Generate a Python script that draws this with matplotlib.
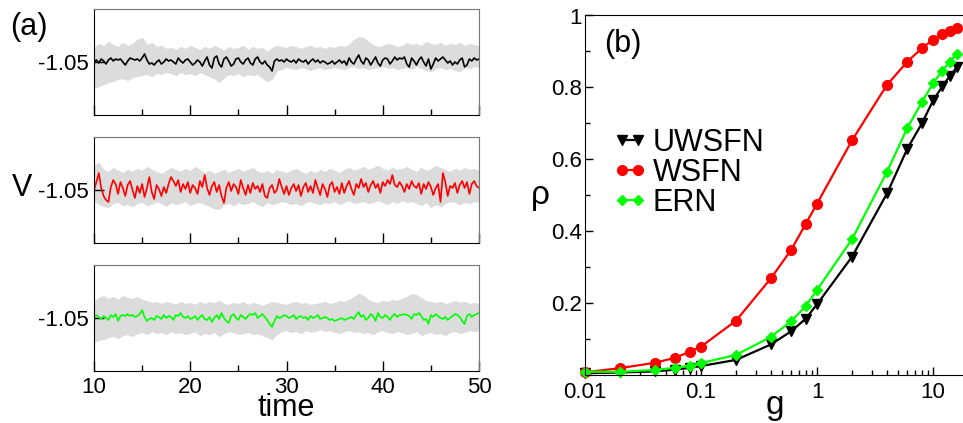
import numpy as np
import matplotlib.pyplot as plt
from matplotlib.ticker import MultipleLocator, LogLocator, NullFormatter

plt.rcParams['font.family'] = ['Liberation Sans', 'DejaVu Sans']

# ---- panel (a): membrane potential traces, offsets from -1.05 in units of 1e-3
V0 = -1.05
t_step = 0.25
black_dv = [0, 2, -1, 3, 1, -2, 2, 4, 1, 3, 2, 3, 0, -3, 1, 4,
            3, 2, 3, 1, 4, 8, 2, -2, -1, -3, 0, 2, -2, 0, 3, 1,
            2, 0, -2, 4, 1, -1, 2, 3, 0, -3, -1, 2, 0, -4, 1, 5,
            -3, -6, 4, 6, -2, -5, 3, 5, 1, -4, -2, 3, 4, 0, -2, 2,
            4, -1, -3, 3, 5, 0, -2, 1, -3, -5, -9, 1, 3, 1, 2, 0,
            3, 1, 0, 2, -1, 3, 1, 0, 2, -2, 1, 3, 0, 2, -1, 1,
            0, -2, -1, 1, -2, 0, 2, -1, 1, -3, 4, 0, -2, 3, 7, 1,
            -2, 4, 2, -3, 1, 5, -1, -4, 2, 4, 3, -2, 1, 5, 2, 4,
            3, 5, -2, -5, 4, 1, -3, 2, 5, 0, -4, 3, -7, -2, 4, 1,
            3, 5, 2, -1, 1, -3, 0, -2, 2, 4, -5, -3, 3, 1, 4, 2, 3]
red_dv = [0, 8, 17, 2, -6, -10, -12, 3, 10, 6, -4, 8, 2, -6, 5, 9,
          0, -8, 4, -3, 6, -7, 2, 13, -2, -9, 5, 1, -6, 3, -3, 6,
          13, 9, 4, 10, -2, 6, 1, 8, -3, 5, 2, -4, 9, 3, 15, 2,
          -5, 4, 8, -2, 5, -6, -13, 2, 8, -1, 6, 3, -4, 10, 2, -5,
          5, -3, 7, 1, 4, -2, 6, -6, -8, 2, 5, -3, 0, 11, 3, -4,
          4, -5, 2, 6, -1, 5, -6, 3, 7, -2, 4, -3, 10, 2, -5, 6,
          1, -7, 5, 8, -2, 3, -4, 7, -3, 4, 9, 1, -5, 6, 2, 11,
          3, 7, -2, 5, 9, 2, 6, -3, 8, 4, 10, 6, 15, 5, 3, 8,
          4, -2, 6, 1, 9, 4, 2, 7, -4, 6, 1, 8, 3, -5, 2, 6,
          -12, 17, 8, -6, 4, 2, 7, -3, 5, 9, 2, 8, -4, 6, 9, 4, 2]
green_dv = [0, 3, 1, -1, 2, 0, -2, 3, 1, 4, -3, 2, 3, 2, 4, 2,
            3, 1, 2, 4, 8, 1, -3, -1, 0, -2, 2, 1, -1, 3, 0, 2,
            1, -2, 3, 2, 5, 1, 0, 2, -1, 0, 2, -2, 1, 3, -1, -2,
            1, -4, 0, 3, -1, 5, 0, -3, -5, 2, 4, 0, -2, 3, 1, -1,
            2, 4, 3, 5, 0, 2, 4, 1, -2, -6, -9, -3, 2, 0, 1, 3,
            2, 0, 1, 3, -1, 1, 2, 0, 1, -2, 2, 0, 1, 3, -1, 0,
            1, 0, -2, -1, -3, -2, -1, 0, -2, -1, 0, 1, -1, 3, 6, 1,
            3, -2, 0, 4, 2, -3, 5, 1, 0, 3, 1, -2, 2, 4, 1, 3,
            3, 4, 3, 2, -1, 4, 3, 5, 2, -2, -1, -6, 3, 1, 4, 2,
            0, -1, 1, -2, 0, 2, 4, 3, 1, -3, -6, 2, 4, 1, 3, 4, 5]

# spread of the other (grey) realisations, sampled every 0.5 time units
band_step = 0.5
top_hi = [14, 18, 16, 20, 17, 15, 19, 16, 18, 22, 24, 17, 19, 15, 16, 13,
          14, 12, 15, 13, 16, 14, 12, 15, 13, 16, 14, 11, 15, 13, 14, 16,
          12, 15, 13, 14, 10, 14, 16, 15, 14, 16, 15, 13, 15, 16, 14, 15,
          13, 15, 14, 16, 15, 17, 22, 25, 24, 20, 17, 15, 16, 18, 17, 15,
          16, 19, 17, 18, 16, 20, 18, 17, 19, 16, 18, 17, 19, 16, 18, 17, 16]
top_lo = [-26, -24, -22, -20, -19, -17, -16, -18, -15, -14, -13, -12, -14, -11, -12, -10,
          -11, -13, -10, -12, -11, -13, -10, -12, -14, -16, -20, -15, -12, -13, -11, -14,
          -12, -13, -12, -16, -19, -17, -8, -7, -5, -6, -7, -5, -6, -8, -6, -5,
          -7, -6, -5, -6, -7, -5, -4, -6, -5, -7, -6, -5, -4, -6, -5, -7,
          -6, -5, -7, -4, -6, -8, -9, -6, -5, -7, -6, -8, -9, -5, -6, -4, -5]
mid_hi = [24, 27, 20, 18, 22, 19, 17, 20, 18, 21, 19, 23, 20, 18, 16, 19,
          22, 20, 18, 21, 19, 23, 20, 17, 19, 16, 18, 20, 17, 19, 21, 18,
          20, 22, 18, 17, 19, 16, 20, 18, 17, 19, 21, 18, 16, 19, 17, 20,
          18, 21, 19, 17, 20, 22, 19, 21, 23, 20, 22, 24, 21, 19, 22, 20,
          21, 23, 20, 18, 22, 19, 21, 24, 22, 20, 18, 21, 19, 22, 20, 21, 19]
mid_lo = [-10, -14, -16, -17, -13, -12, -15, -14, -16, -13, -12, -15, -14, -11, -13, -16,
          -12, -14, -13, -11, -15, -13, -12, -14, -16, -18, -19, -14, -13, -15, -12, -14,
          -13, -11, -14, -16, -12, -14, -13, -11, -12, -14, -13, -15, -12, -11, -13, -14,
          -12, -13, -11, -14, -12, -10, -13, -12, -11, -13, -12, -10, -12, -14, -11, -13,
          -10, -12, -11, -13, -15, -12, -17, -14, -16, -13, -11, -12, -14, -12, -13, -11, -12]
bot_hi = [16, 20, 22, 19, 21, 18, 22, 20, 19, 21, 18, 17, 15, 16, 14, 16,
          15, 13, 16, 14, 15, 13, 16, 14, 16, 15, 17, 14, 13, 15, 14, 16,
          13, 15, 14, 12, 14, 16, 15, 14, 13, 15, 16, 14, 15, 13, 14, 15,
          16, 14, 15, 17, 16, 18, 21, 24, 22, 18, 16, 15, 17, 16, 18, 17,
          19, 21, 24, 23, 20, 17, 16, 15, 16, 14, 15, 17, 15, 16, 14, 15, 14]
bot_lo = [-24, -22, -21, -19, -18, -20, -17, -16, -18, -15, -14, -16, -13, -15, -14, -16,
          -13, -15, -14, -16, -15, -13, -17, -15, -16, -14, -18, -15, -13, -14, -16, -15,
          -14, -16, -15, -17, -19, -21, -16, -13, -12, -14, -13, -15, -12, -14, -13, -11,
          -13, -12, -14, -15, -13, -12, -14, -13, -15, -14, -16, -13, -12, -14, -15, -13,
          -14, -16, -15, -13, -17, -15, -14, -16, -15, -17, -14, -13, -15, -14, -12, -13, -12]

# ---- panel (b): rho vs g
g = [0.01, 0.02, 0.04, 0.06, 0.08, 0.1, 0.2, 0.4, 0.6, 0.8, 1, 2, 4, 6, 8, 10, 12, 14, 16]
rho_uwsfn = [0.005, 0.007, 0.010, 0.015, 0.020, 0.025, 0.042, 0.085, 0.122, 0.157, 0.197,
             0.329, 0.505, 0.630, 0.700, 0.764, 0.803, 0.833, 0.856]
rho_wsfn = [0.0075, 0.019, 0.034, 0.048, 0.065, 0.079, 0.151, 0.269, 0.349, 0.421, 0.477,
            0.653, 0.807, 0.872, 0.909, 0.933, 0.949, 0.956, 0.966]
rho_ern = [0.009, 0.009, 0.014, 0.020, 0.026, 0.033, 0.056, 0.106, 0.150, 0.192, 0.237,
           0.378, 0.565, 0.688, 0.759, 0.812, 0.847, 0.872, 0.894]

fig = plt.figure(figsize=(9.63, 4.23), dpi=100)
W, H = 963.0, 423.0

t = 10 + t_step * np.arange(len(black_dv))
tb = 10 + band_step * np.arange(len(top_hi))
panels = [(115, black_dv, top_hi, top_lo, 'black'),
          (243, red_dv, mid_hi, mid_lo, '#ff0000'),
          (371, green_dv, bot_hi, bot_lo, '#00ff00')]
axes_a = []
for k, (ybot, dv, hi, lo, col) in enumerate(panels):
    ax = fig.add_axes([94 / W, (H - ybot) / H, 385 / W, 106 / H])
    ax.fill_between(tb, V0 + np.array(lo) * 1e-3, V0 + np.array(hi) * 1e-3,
                    color='#dcdcdc', lw=0.8, edgecolor='#dcdcdc')
    ax.plot(t, V0 + np.array(dv) * 1e-3, color=col, lw=1.2)
    ax.set_xlim(10, 50)
    ax.set_ylim(V0 - 0.053, V0 + 0.053)
    ax.set_yticks([V0])
    ax.set_yticklabels(['-1.05'])
    ax.xaxis.set_major_locator(MultipleLocator(10))
    ax.xaxis.set_minor_locator(MultipleLocator(5))
    ax.tick_params(which='both', direction='in', top=False, right=False, labelsize=16, pad=4)
    ax.tick_params(which='major', length=7, width=1)
    ax.tick_params(which='minor', length=4, width=1)
    for s in ('top', 'right'):
        ax.spines[s].set_color('#777777')
    if k < 2:
        ax.set_xticklabels([])
    axes_a.append(ax)

axes_a[2].set_xlabel('time', fontsize=22, labelpad=-3.5)
fig.text(10 / W, 1 - 27 / H, '(a)', fontsize=22, va='center', ha='left')
fig.text(22 / W, 1 - 188 / H, 'V', fontsize=22, va='center', ha='center')

# ---- panel (b)
ax = fig.add_axes([585 / W, (H - 375) / H, 380 / W, 359.5 / H])
ax.set_xscale('log')
ax.plot(g, rho_uwsfn, color='black', lw=1.6, marker='v', ms=7, label='UWSFN', clip_on=False)
ax.plot(g, rho_wsfn, color='#ff0000', lw=1.6, marker='o', ms=7, label='WSFN', clip_on=False)
ax.plot(g, rho_ern, color='#00ff00', lw=1.6, marker='D', ms=5.5, label='ERN', clip_on=False)
ax.set_xlim(0.01, 18.8)
ax.set_ylim(0, 1)
ax.set_xticks([0.01, 0.1, 1, 10])
ax.set_xticklabels(['0.01', '0.1', '1', '10'])
ax.xaxis.set_minor_locator(LogLocator(subs=np.arange(2, 10)))
ax.xaxis.set_minor_formatter(NullFormatter())
ax.set_yticks([0.2, 0.4, 0.6, 0.8, 1.0])
ax.set_yticklabels(['0.2', '0.4', '0.6', '0.8', '1'])
ax.yaxis.set_minor_locator(MultipleLocator(0.1))
ax.tick_params(which='both', direction='in', top=False, right=False, labelsize=16)
ax.tick_params(axis='y', pad=2)
ax.tick_params(axis='x', pad=5)
ax.tick_params(which='major', length=6, width=1)
ax.tick_params(which='minor', length=3.5, width=1)
ax.spines['right'].set_visible(False)
ax.set_xlabel('g', fontsize=24, labelpad=-9)
ax.set_ylabel('ρ', fontsize=24, rotation=0, labelpad=8, va='center')
ax.text(0.05, 0.92, '(b)', transform=ax.transAxes, fontsize=22, va='center', ha='left')
ax.legend(loc='center left', bbox_to_anchor=(28 / 378, 0.563), frameon=False,
          fontsize=22, handlelength=1.1, handletextpad=0.2, borderpad=0,
          borderaxespad=0, labelspacing=0.0, numpoints=2)

fig.savefig('out.png', dpi=100)
